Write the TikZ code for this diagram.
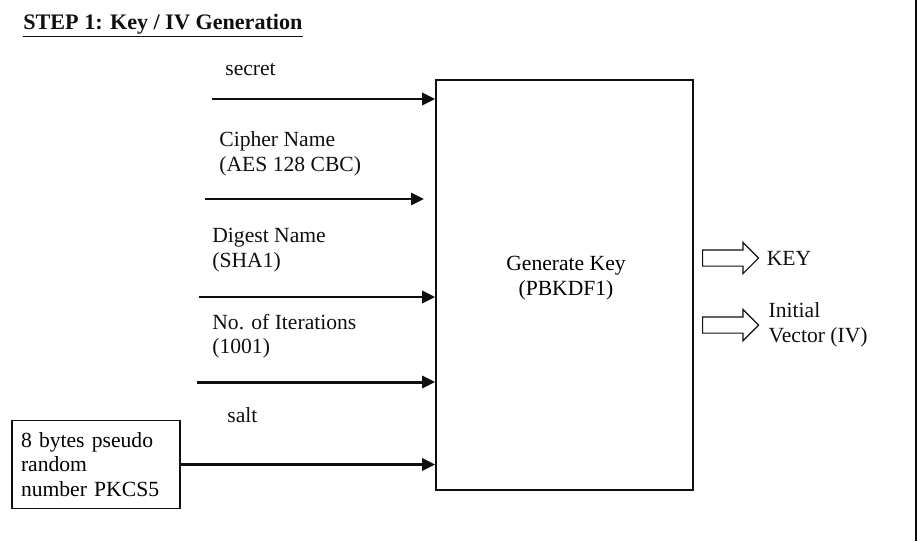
\documentclass[tikz,border=0pt]{standalone}
\usepackage{fontspec}
\setmainfont{Liberation Serif}
\usetikzlibrary{arrows.meta,positioning,shapes.arrows}
\definecolor{ink}{RGB}{15,15,15}
\tikzset{
  >={Triangle[length=2.6mm,width=2.4mm]},
  flow/.style={->,line width=1.7pt,draw=ink},
  block/.style={draw=ink,line width=0.9pt,align=center,font=\fontsize{12.3}{14}\selectfont},
  tag/.style={anchor=west,align=left,inner sep=0pt,text=ink,font=\fontsize{12.3}{14}\selectfont},
  out arrow/.style={single arrow,draw=ink,line width=0.7pt,minimum height=1.12cm,
    inner sep=0.15cm,single arrow head extend=0.15cm},
}

\begin{document}
\begin{tikzpicture}[x=0.02cm,y=-0.02cm]
    \useasboundingbox (0,0) rectangle (918,541);
    \draw[ink,line width=1.2pt] (916,0) -- (916,541);
    \node[tag,font=\fontsize{12.6}{14}\bfseries] (title) at (23,26) {\underline{STEP 1: Key / IV Generation}};
    % generator block
    \node[block,minimum width=5.14cm,minimum height=8.2cm] (gen) at (564.5,285) {};
    \node[block,draw=none] (gentext) at (566,278) {Generate Key\\(PBKDF1)};
    % random source
    \node[block,minimum width=3.36cm,minimum height=1.76cm,align=left,text width=3.0cm] (rnd) at (96,464.5)
      {8 bytes pseudo\\random\\number PKCS5};
    % inputs
    \coordinate (in1) at (212,99);
    \coordinate (in2) at (205,199);
    \coordinate (end2) at (424,199);
    \coordinate (in3) at (199,297);
    \coordinate (in4) at (197,382);
    \draw[flow] (in1) -- (in1 -| gen.west);
    \draw[flow] (in2) -- (end2);
    \draw[flow] (in3) -- (in3 -| gen.west);
    \draw[flow] (in4) -- (in4 -| gen.west);
    \draw[flow] (rnd.east) -- (rnd.east -| gen.west);
    \node[tag] (secret) at (225,70) {secret};
    \node[tag] (cipher) at (219,154) {Cipher Name\\(AES 128 CBC)};
    \node[tag] (digest) at (212,250) {Digest Name\\(SHA1)};
    \node[tag] (iter) at (212,336) {No. of Iterations\\(1001)};
    \node[tag] (salt) at (227,415) {salt};
    % outputs
    \node[out arrow,anchor=west] (keyarr) at (702,258) {};
    \node[out arrow,anchor=west] (ivarr) at (702,325) {};
    \node[tag,right=4pt of keyarr] (key) {KEY};
    \node[tag,right=5pt of ivarr] (iv) {Initial\\Vector (IV)};
\end{tikzpicture}
\end{document}
